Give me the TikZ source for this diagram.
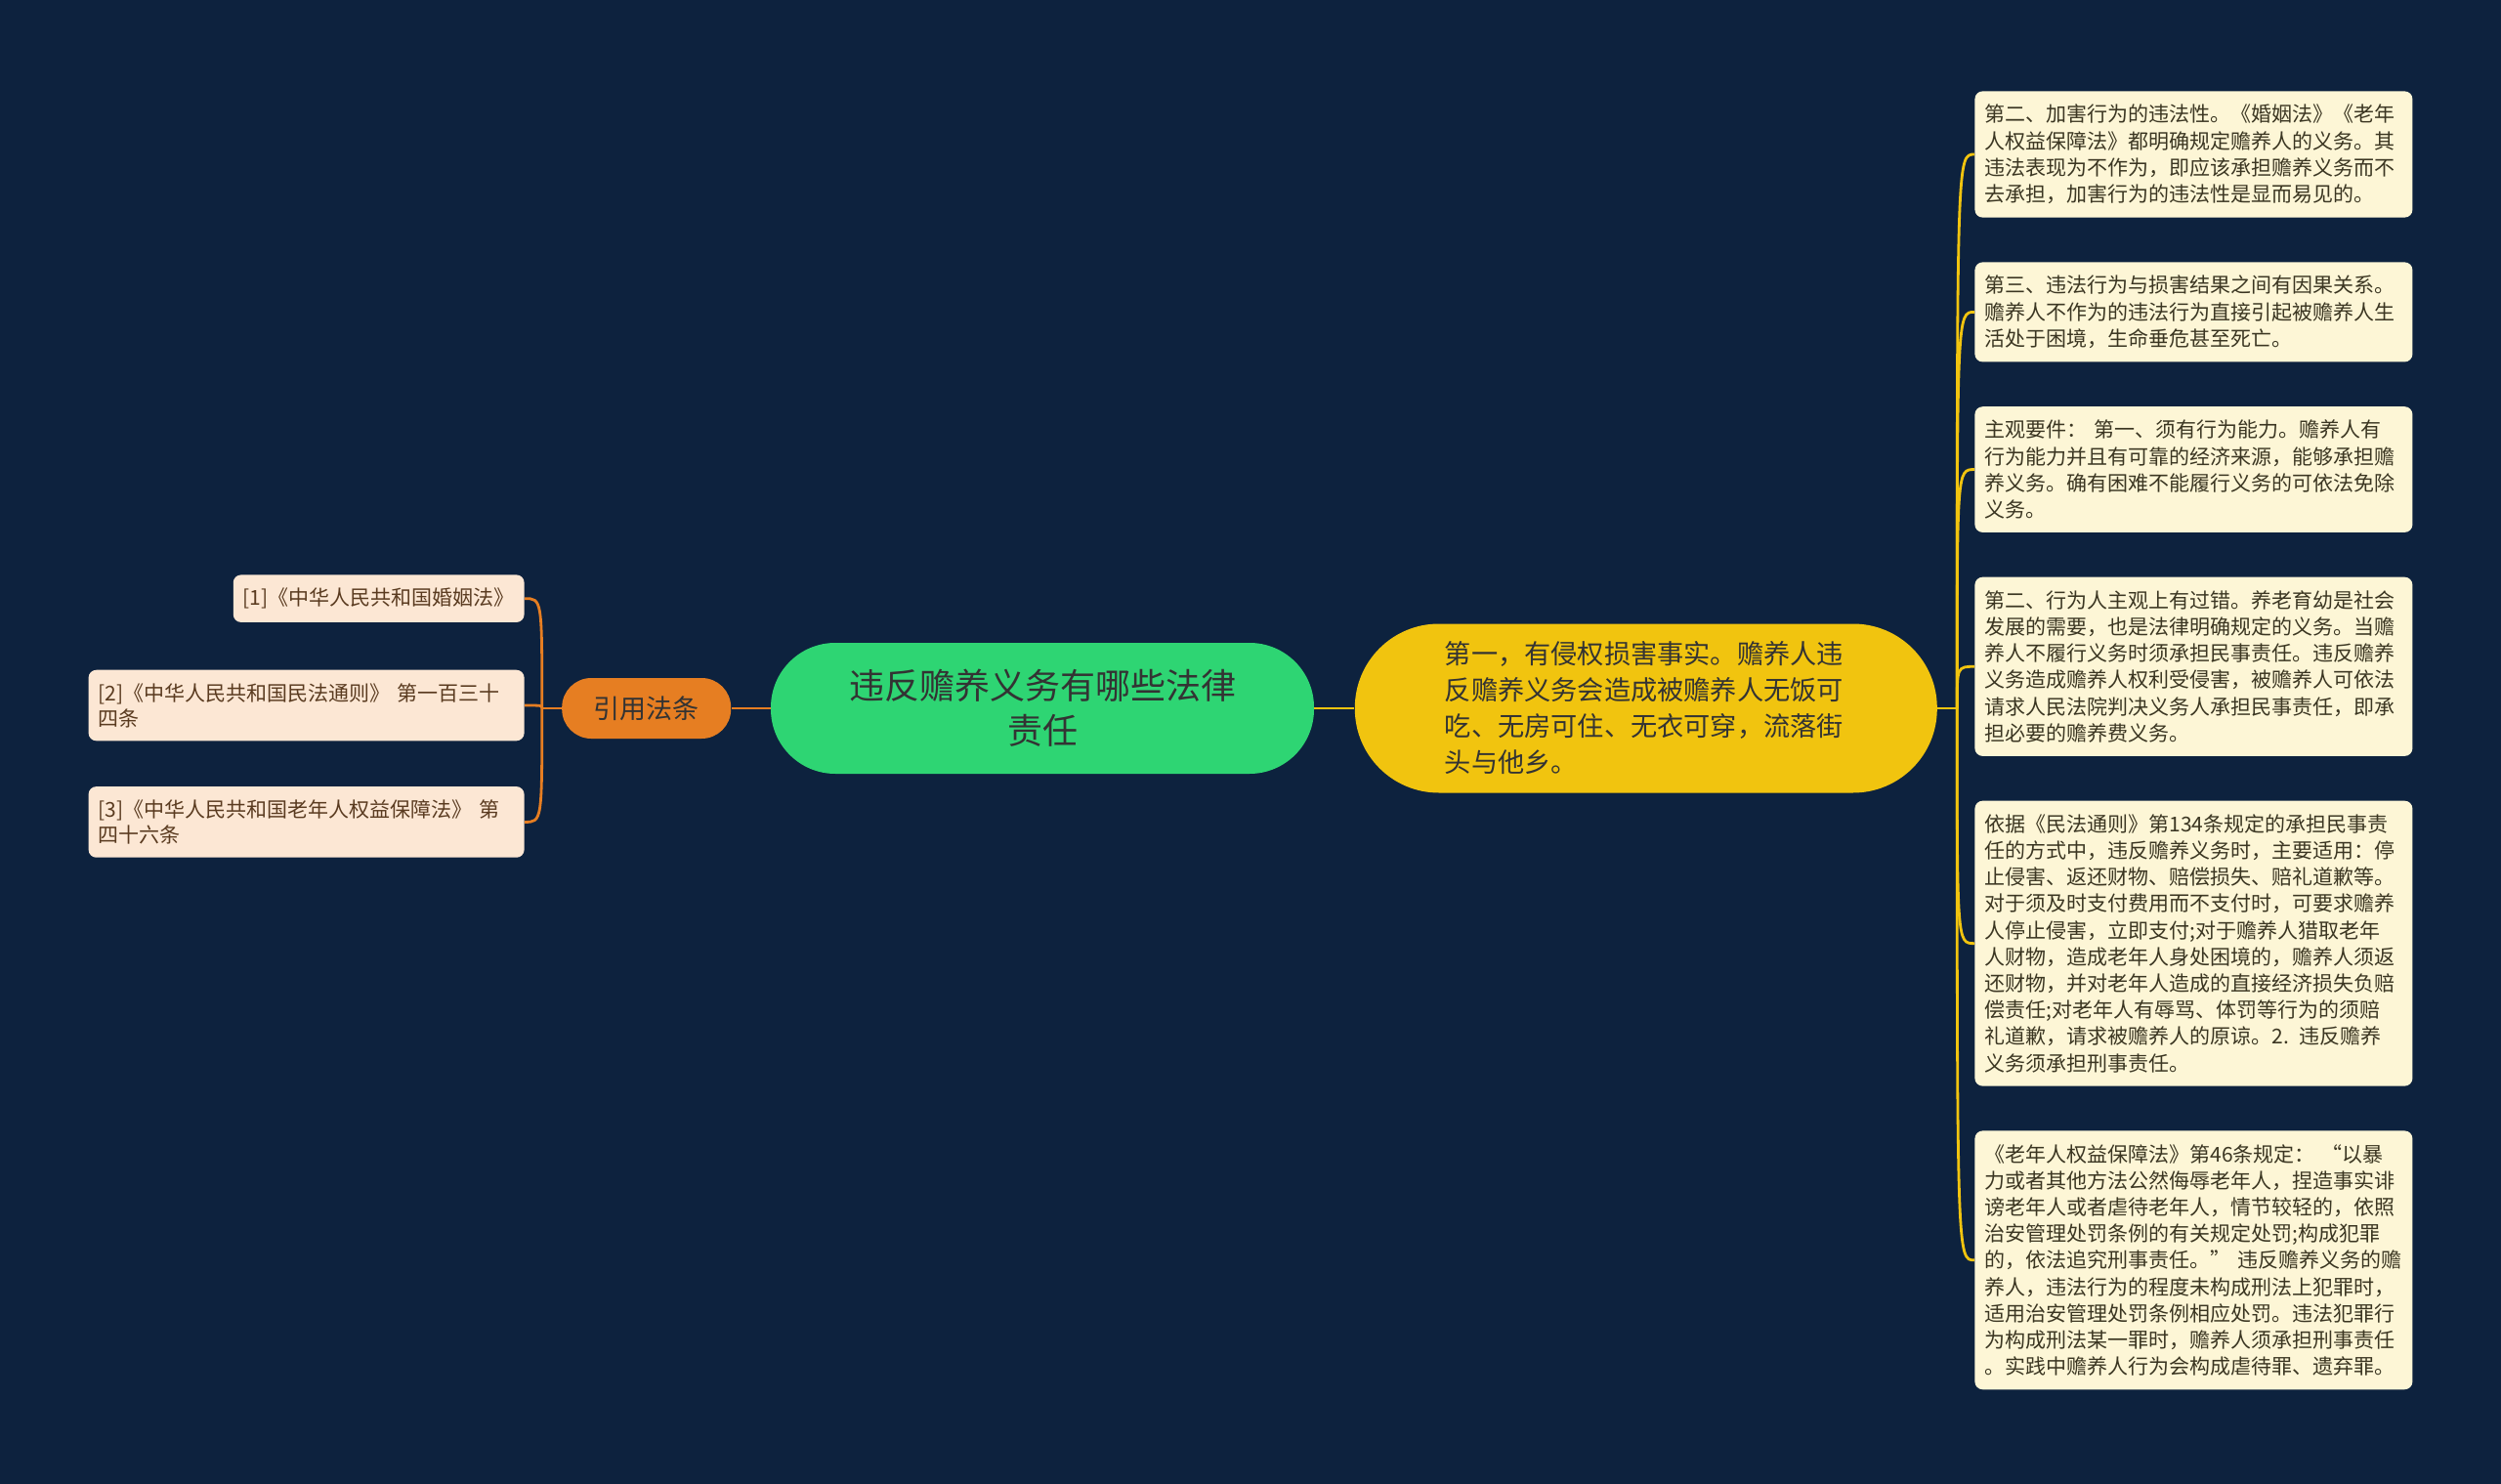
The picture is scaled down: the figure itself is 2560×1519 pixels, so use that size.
\documentclass[tikz,border=0pt]{standalone}
\usepackage{fontspec}
\newfontfamily\cjk{Noto Sans CJK SC}
\usetikzlibrary{positioning}
\definecolor{bgnavy}{HTML}{0D223E}
\definecolor{rootgreen}{HTML}{2ED573}
\definecolor{factyellow}{HTML}{F1C40F}
\definecolor{citeorange}{HTML}{E67E22}
\definecolor{notecream}{HTML}{FDF6D6}
\definecolor{refpeach}{HTML}{FCE7D4}
\definecolor{darktext}{HTML}{333333}
\definecolor{notetext}{HTML}{3B3622}
\definecolor{reftext}{HTML}{5A3B20}
\tikzset{
  root/.style={fill=rootgreen, rounded corners=33pt, minimum width=278pt, minimum height=67pt, align=center, text=darktext, font={\cjk\fontsize{18}{23}\selectfont}},
  fact/.style={fill=factyellow, rounded corners=43pt, minimum width=298pt, minimum height=86.5pt, text width=206pt, align=left, text=darktext, font={\cjk\fontsize{13.6}{18.5}\selectfont}},
  cite/.style={fill=citeorange, rounded corners=15pt, minimum width=86.5pt, minimum height=31pt, align=center, text=darktext, font={\cjk\fontsize{13.5}{16}\selectfont}},
  note/.style={fill=notecream, rounded corners=4pt, text width=214pt, inner xsep=5pt, inner ysep=6.9pt, align=left, text=notetext, font={\cjk\fontsize{10.5}{13.6}\selectfont}},
  lawref/.style={fill=refpeach, rounded corners=4pt, inner xsep=5pt, inner ysep=6.8pt, align=left, text=reftext, font={\cjk\fontsize{10.5}{13}\selectfont}},
  ylink/.style={draw=factyellow, line width=1.4pt},
  olink/.style={draw=citeorange, line width=1.4pt}
}
\begin{document}
\begin{tikzpicture}[x=0.5pt, y=-0.5pt]
  \fill[bgnavy] (0,0) rectangle (2560,1519);

  \node[root] (main) at (1067,725) {违反赡养义务有哪些法律\\责任};
  \node[fact, right=20.5pt of main] (first) {第一，有侵权损害事实。赡养人违\\反赡养义务会造成被赡养人无饭可\\吃、无房可住、无衣可穿，流落街\\头与他乡。};
  \node[cite, left=20pt of main] (laws) {引用法条};

  % right side notes
  \node[note, anchor=north west] (n1) at (2021,93) {第二、加害行为的违法性。《婚姻法》《老年\\人权益保障法》都明确规定赡养人的义务。其\\违法表现为不作为，即应该承担赡养义务而不\\去承担，加害行为的违法性是显而易见的。};
  \node[note, below=22.5pt of n1] (n2) {第三、违法行为与损害结果之间有因果关系。\\赡养人不作为的违法行为直接引起被赡养人生\\活处于困境，生命垂危甚至死亡。};
  \node[note, below=22.5pt of n2] (n3) {主观要件： 第一、须有行为能力。赡养人有\\行为能力并且有可靠的经济来源，能够承担赡\\养义务。确有困难不能履行义务的可依法免除\\义务。};
  \node[note, below=22.5pt of n3] (n4) {第二、行为人主观上有过错。养老育幼是社会\\发展的需要，也是法律明确规定的义务。当赡\\养人不履行义务时须承担民事责任。违反赡养\\义务造成赡养人权利受侵害，被赡养人可依法\\请求人民法院判决义务人承担民事责任，即承\\担必要的赡养费义务。};
  \node[note, below=22.5pt of n4] (n5) {依据《民法通则》第134条规定的承担民事责\\任的方式中，违反赡养义务时，主要适用：停\\止侵害、返还财物、赔偿损失、赔礼道歉等。\\对于须及时支付费用而不支付时，可要求赡养\\人停止侵害，立即支付;对于赡养人猎取老年\\人财物，造成老年人身处困境的，赡养人须返\\还财物，并对老年人造成的直接经济损失负赔\\偿责任;对老年人有辱骂、体罚等行为的须赔\\礼道歉，请求被赡养人的原谅。2. 违反赡养\\义务须承担刑事责任。};
  \node[note, below=22.5pt of n5] (n6) {《老年人权益保障法》第46条规定： “以暴\\力或者其他方法公然侮辱老年人，捏造事实诽\\谤老年人或者虐待老年人，情节较轻的，依照\\治安管理处罚条例的有关规定处罚;构成犯罪\\的，依法追究刑事责任。” 违反赡养义务的赡\\养人，违法行为的程度未构成刑法上犯罪时，\\适用治安管理处罚条例相应处罚。违法犯罪行\\为构成刑法某一罪时，赡养人须承担刑事责任\\。实践中赡养人行为会构成虐待罪、遗弃罪。};

  % left side references
  \node[lawref, anchor=north east, minimum height=22.5pt] (r1) at (537,588) {[1]《中华人民共和国婚姻法》};
  \node[lawref, text width=213pt, below=24pt of r1.south east, anchor=north east] (r2) {[2]《中华人民共和国民法通则》 第一百三十\\四条};
  \node[lawref, text width=213pt, below=23pt of r2] (r3) {[3]《中华人民共和国老年人权益保障法》 第\\四十六条};

  \draw[ylink] (main.east) -- (first.west);
  \draw[olink] (main.west) -- (laws.east);

  \draw[ylink] (first.east) -- ++(10pt,0) coordinate (rj);
  \foreach \n in {n1,n2,n3,n4,n5,n6}
    \draw[ylink] (rj) .. controls (rj |- \n.west) .. (\n.west);

  \draw[olink] (laws.west) -- ++(-10pt,0) coordinate (lj);
  \foreach \r in {r1,r2,r3}
    \draw[olink] (lj) .. controls (lj |- \r.east) .. (\r.east);
\end{tikzpicture}
\end{document}
